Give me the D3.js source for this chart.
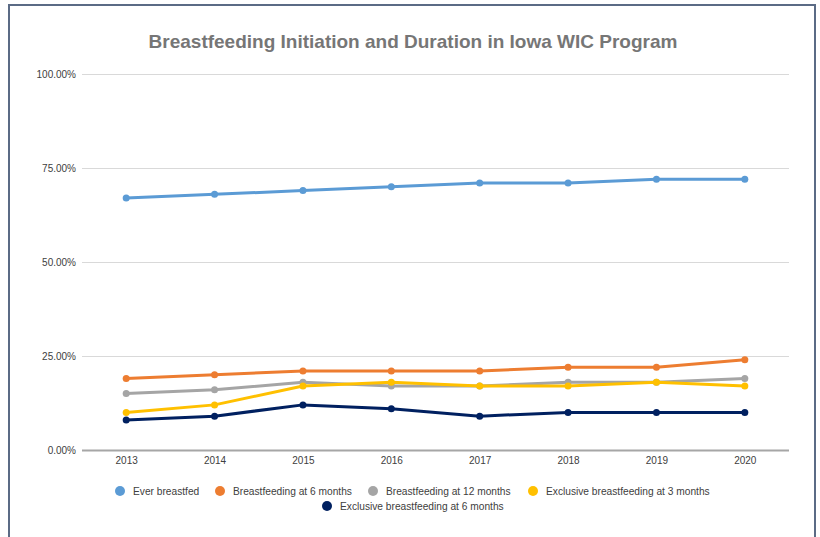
<!DOCTYPE html>
<html><head><meta charset="utf-8">
<script src="https://cdn.jsdelivr.net/npm/d3@7"></script>
<style>body{margin:0;background:#fff}svg{display:block}</style>
</head><body>
<svg id="c" width="820" height="537"></svg>
<script>
const years = ["2013","2014","2015","2016","2017","2018","2019","2020"];
const everBreastfed = [67,68,69,70,71,71,72,72];
const bf6Months = [19,20,21,21,21,22,22,24];
const bf12Months = [15,16,18,17,17,18,18,19];
const excl3Months = [10,12,17,18,17,17,18,17];
const excl6Months = [8,9,12,11,9,10,10,10];
const yTicks = [0,25,50,75,100];
const seriesNames = ["Ever breastfed","Breastfeeding at 6 months","Breastfeeding at 12 months","Exclusive breastfeeding at 3 months","Exclusive breastfeeding at 6 months"];
const seriesColors = ["#5b9bd5","#ed7d31","#a5a5a5","#ffc000","#002060"];
const seriesValues = [everBreastfed,bf6Months,bf12Months,excl3Months,excl6Months];

const svg = d3.select("#c");
// frame
svg.append("rect").attr("x",9).attr("y",5).attr("width",806).attr("height",560)
  .attr("fill","none").attr("stroke","#5b6b85").attr("stroke-width",2);

const L=82,R=789,T=74,B=450;
const x = d3.scalePoint().domain(years).range([L,R]).padding(0.5);
const y = d3.scaleLinear().domain([0,100]).range([B,T]);

svg.append("text").attr("x",413).attr("y",48).attr("text-anchor","middle")
  .attr("font-family","Liberation Sans, Arial, sans-serif").attr("font-weight","bold")
  .attr("font-size",19).attr("fill","#767676")
  .text("Breastfeeding Initiation and Duration in Iowa WIC Program");

// grid
const yAxis = d3.axisLeft(y).tickValues(yTicks).tickSize(-(R-L)).tickPadding(6)
  .tickFormat(d=>d.toFixed(2)+"%");
const gy = svg.append("g").attr("transform",`translate(${L},0)`).call(yAxis);
gy.select(".domain").remove();
gy.selectAll(".tick line").attr("stroke","#d9d9d9").attr("stroke-width",1);
gy.selectAll(".tick text").attr("font-family","Liberation Sans, Arial, sans-serif").attr("font-size",10).attr("fill","#404040");
gy.selectAll(".tick").filter(d=>d===0).select("line").attr("stroke","#a6a6a6").attr("stroke-width",2);

const xAxis = d3.axisBottom(x).tickSize(0).tickPadding(7);
const gx = svg.append("g").attr("transform",`translate(0,${B})`).call(xAxis);
gx.select(".domain").remove();
gx.selectAll(".tick text").attr("font-family","Liberation Sans, Arial, sans-serif").attr("font-size",10).attr("fill","#404040");

const line = d3.line().x((d,i)=>x(years[i])).y(d=>y(d));
seriesValues.forEach((vals,si)=>{
  svg.append("path").datum(vals).attr("d",line).attr("fill","none")
    .attr("stroke",seriesColors[si]).attr("stroke-width",3).attr("stroke-linejoin","round");
  svg.selectAll(null).data(vals).enter().append("circle")
    .attr("cx",(d,i)=>x(years[i])).attr("cy",d=>y(d)).attr("r",3.5)
    .attr("fill",seriesColors[si]);
});

// legend
const legendPos = [[120,491],[220,491],[373,491],[533,491],[327,506]];
seriesNames.forEach((n,i)=>{
  const g = svg.append("g").attr("transform",`translate(${legendPos[i][0]},${legendPos[i][1]})`);
  g.append("circle").attr("r",5).attr("fill",seriesColors[i]);
  g.append("text").attr("x",13).attr("dy","0.35em").attr("font-family","Liberation Sans, Arial, sans-serif")
    .attr("font-size",10.2).attr("fill","#404040").text(n);
});
</script>
</body></html>
